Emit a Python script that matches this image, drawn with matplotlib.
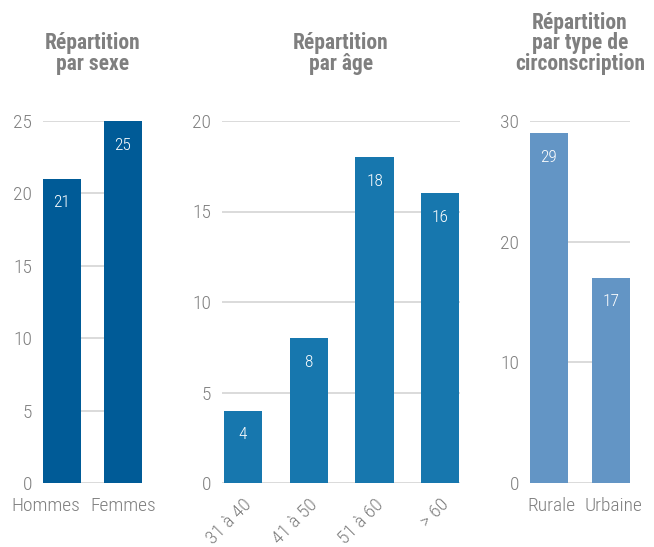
import matplotlib
matplotlib.use("Agg")
import matplotlib.pyplot as plt

plt.rcParams['font.family'] = ['Roboto Condensed', 'DejaVu Sans']

# Données
sexe_labels = ["Hommes", "Femmes"]
sexe_values = [21, 25]

age_labels = ["31 à 40", "41 à 50", "51 à 60", "> 60"]
age_values = [4, 8, 18, 16]

circ_labels = ["Rurale", "Urbaine"]
circ_values = [29, 17]

GRIS = "#7f7f7f"
GRILLE = "#d4d4d4"

fig = plt.figure(figsize=(6.54, 5.47), dpi=100)

bottom = 1 - 483 / 547
height = 362 / 547

panneaux = [
    # (titre, labels, valeurs, couleur, ymax, pas, x gauche, largeur, xlim, largeur barre,
    #  rotation, décalage horizontal des libellés en pixels)
    ("Répartition\npar sexe", sexe_labels, sexe_values, "#005b97", 25, 5,
     43 / 654, 99 / 654, (-0.31, 1.31), 0.62, 0, [-16, 0]),
    ("Répartition\npar âge", age_labels, age_values, "#1777ae", 20, 5,
     222 / 654, 238 / 654, (-0.32, 3.30), 0.58, 45, None),
    ("Répartition\npar type de\ncirconscription", circ_labels, circ_values, "#6395c5", 30, 10,
     530 / 654, 100 / 654, (-0.30, 1.30), 0.61, 0, [3, 2]),
]

for titre, labels, valeurs, couleur, ymax, pas, x0, w, xlim, bw, rot, dx in panneaux:
    ax = fig.add_axes([x0, bottom, w, height])
    x = list(range(len(labels)))
    bars = ax.bar(x, valeurs, width=bw, color=couleur, zorder=2)
    ax.set_xlim(*xlim)
    ax.set_ylim(0, ymax)
    ax.set_yticks(range(0, ymax + 1, pas))
    ax.yaxis.grid(True, color=GRILLE, linewidth=1.2, zorder=0)
    ax.set_axisbelow(True)
    for s in ax.spines.values():
        s.set_visible(False)
    ax.tick_params(axis="both", length=0, labelsize=14, labelcolor=GRIS)
    ax.tick_params(axis="y", pad=8)
    for t in ax.get_yticklabels():
        t.set_fontweight("light")

    if rot:
        ax.set_xticks(x)
        ax.set_xticklabels(labels, rotation=rot, ha="right", rotation_mode="anchor",
                           fontweight="light")
        ax.tick_params(axis="x", pad=9)
    else:
        # libellés posés à la main pour pouvoir les décaler
        ax.set_xticks([])
        for xi, lab, d in zip(x, labels, dx):
            ax.annotate(lab, (xi, 0), xytext=(d, -14), textcoords="offset pixels",
                        ha="center", va="top", fontsize=14, fontweight="light",
                        color=GRIS, annotation_clip=False)

    # valeurs dans les barres
    for b, v in zip(bars, valeurs):
        ax.annotate(str(v), (b.get_x() + b.get_width() / 2, v),
                    xytext=(0, -24), textcoords="offset pixels",
                    ha="center", va="center", color="white", fontsize=12.5,
                    fontweight="light")

    ax.text(0.5, 1 + 46 / 362, titre, transform=ax.transAxes, ha="center", va="bottom",
            fontsize=15.5, fontweight="bold", color=GRIS, linespacing=0.92)

fig.savefig("out.png", dpi=100)
